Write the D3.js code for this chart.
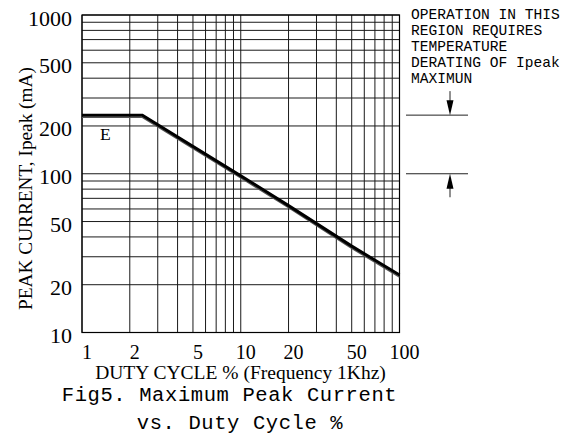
<!DOCTYPE html>
<html><head><meta charset="utf-8">
<script src="https://cdn.jsdelivr.net/npm/d3@7"></script>
<style>body{margin:0;background:#fff}svg{display:block}</style>
</head><body>
<svg id="c" width="577" height="440"></svg>
<script>
// ---- data ----
const xTickLabels = [1, 2, 5, 10, 20, 50, 100];
const yTickLabels = [10, 20, 50, 100, 200, 500, 1000];
const dutyCycle = [1, 2.4, 10, 20, 50, 100];
const peakCurrent = [234, 234, 97, 63, 35, 23];
const derateLevels = [234, 100];
const noteLines = ["OPERATION IN THIS", "REGION REQUIRES", "TEMPERATURE", "DERATING OF Ipeak", "MAXIMUN"];
const curveName = "E";
const xTitle = "DUTY CYCLE % (Frequency 1Khz)";
const yTitle = "PEAK CURRENT, Ipeak (mA)";
const caption = ["Fig5. Maximum Peak Current", "vs. Duty Cycle %"];

// ---- chart ----
const svg = d3.select("#c");
const L = 82, R = 399.5, T = 15, B = 332.5;
const x = d3.scaleLog().domain([1, 100]).range([L, R]);
const y = d3.scaleLog().domain([10, 1000]).range([B, T]);
const serif = "'Liberation Serif','DejaVu Serif',serif";
const mono = "'Liberation Mono','DejaVu Sans Mono',monospace";

const grid = svg.append("g").attr("stroke", "#1a1a1a").attr("stroke-width", 1);
grid.selectAll("line.v").data(x.ticks()).join("line")
  .attr("x1", d => x(d)).attr("x2", d => x(d)).attr("y1", T).attr("y2", B);
grid.selectAll("line.h").data(y.ticks()).join("line")
  .attr("y1", d => y(d)).attr("y2", d => y(d)).attr("x1", L).attr("x2", R);
svg.append("rect").attr("x", L).attr("y", T).attr("width", R - L).attr("height", B - T)
  .attr("fill", "none").attr("stroke", "#000").attr("stroke-width", 1.2);

// y tick labels
svg.append("g").selectAll("text").data(yTickLabels).join("text")
  .attr("x", 72).attr("y", d => y(d) + 10.5).attr("text-anchor", "end")
  .attr("font-family", serif).attr("font-size", 22).text(d => d);
// x tick labels
svg.append("g").selectAll("text").data(xTickLabels).join("text")
  .attr("x", d => x(d) + 5).attr("y", 358.5).attr("text-anchor", "middle")
  .attr("font-family", serif).attr("font-size", 20).text(d => d);

// titles
svg.append("text").attr("x", 240.5).attr("y", 379).attr("text-anchor", "middle")
  .attr("font-family", serif).attr("font-size", 19.5).text(xTitle);
svg.append("text").attr("transform", "translate(31.5,188.5) rotate(-90)").attr("text-anchor", "middle")
  .attr("font-family", serif).attr("font-size", 19.3).text(yTitle);
svg.append("text").attr("x", 229.5).attr("y", 400.5).attr("text-anchor", "middle")
  .attr("font-family", mono).attr("font-size", 20.5).attr("letter-spacing", 0.6).text(caption[0]);
svg.append("text").attr("x", 240).attr("y", 429).attr("text-anchor", "middle")
  .attr("font-family", mono).attr("font-size", 20.5).attr("letter-spacing", 0.6).text(caption[1]);

// curve
const pts = dutyCycle.map((d, i) => [d, peakCurrent[i]]);
const line = d3.line().x(d => x(d[0])).y(d => y(d[1]));
svg.append("path").datum(pts).attr("d", line).attr("transform", "translate(0,2.2)")
  .attr("fill", "none").attr("stroke", "#555").attr("stroke-width", 1.3);
svg.append("path").datum(pts).attr("d", line)
  .attr("fill", "none").attr("stroke", "#000").attr("stroke-width", 3);
svg.append("text").attr("x", 100).attr("y", 140).attr("font-family", serif)
  .attr("font-size", 17.5).text(curveName);

// annotation
const note = svg.append("g");
note.selectAll("line").data(derateLevels).join("line")
  .attr("x1", 406).attr("x2", 468).attr("y1", d => y(d)).attr("y2", d => y(d))
  .attr("stroke", "#222").attr("stroke-width", 1);
const ax = 450;
const yTop = y(derateLevels[0]), yBot = y(derateLevels[1]);
note.append("line").attr("x1", ax).attr("x2", ax).attr("y1", yTop - 24).attr("y2", yTop - 6)
  .attr("stroke", "#222");
note.append("path").attr("d", `M${ax - 3.5},${yTop - 15} L${ax + 3.5},${yTop - 15} L${ax},${yTop} Z`)
  .attr("fill", "#000");
note.append("line").attr("x1", ax).attr("x2", ax).attr("y1", yBot + 6).attr("y2", yBot + 23.5)
  .attr("stroke", "#222");
note.append("path").attr("d", `M${ax - 3.5},${yBot + 15} L${ax + 3.5},${yBot + 15} L${ax},${yBot} Z`)
  .attr("fill", "#000");
note.selectAll("text").data(noteLines).join("text")
  .attr("x", 411).attr("y", (d, i) => 18.5 + i * 16.1)
  .attr("font-family", mono).attr("font-size", 14.6).text(d => d);
</script>
</body></html>
